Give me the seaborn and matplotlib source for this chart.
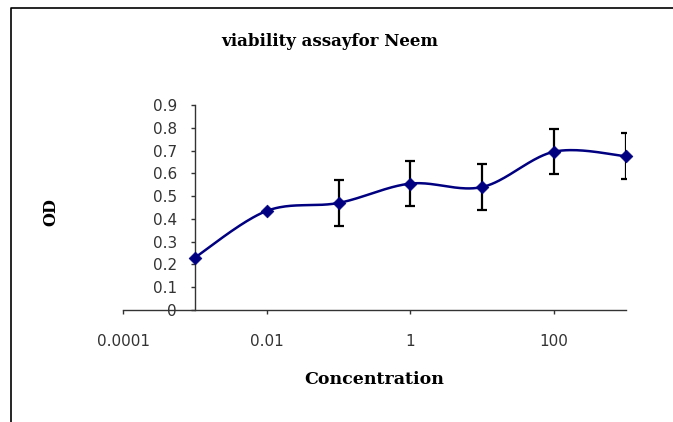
import numpy as np
import matplotlib
matplotlib.use('Agg')
import matplotlib.pyplot as plt
from matplotlib.lines import Line2D
from matplotlib.ticker import FixedLocator, FixedFormatter, NullLocator
import seaborn as sns

# data
concentration = [0.001, 0.01, 0.1, 1, 10, 100, 1000]
od = [0.23, 0.435, 0.47, 0.555, 0.54, 0.695, 0.675]
od_err = [0, 0, 0.1, 0.1, 0.1, 0.1, 0.1]
x_ticks = [0.0001, 0.01, 1, 100]
x_tick_labels = ['0.0001', '0.01', '1', '100']
y_ticks = [0, 0.1, 0.2, 0.3, 0.4, 0.5, 0.6, 0.7, 0.8, 0.9]
y_tick_labels = ['0', '0.1', '0.2', '0.3', '0.4', '0.5', '0.6', '0.7',
                 '0.8', '0.9']

NAVY = '#000080'
W, H = 673, 422

sns.set_style('white')
plt.rcParams['font.family'] = ['DejaVu Sans']

fig = plt.figure(figsize=(W / 100, H / 100), dpi=100)
ax = fig.add_axes([123 / W, 112 / H, 503 / W, 205 / H])
ax.set_xscale('log')
ax.set_xlim(1e-4, 1e3)
ax.set_ylim(0, 0.9)


def smooth_curve(xs, ys, n=40):
    """Excel style smoothed line: bezier through the points, built in
    screen-proportional units so the curve shape follows the axes."""
    u = (np.log10(xs) + 4) / 7 * 503
    v = np.asarray(ys) / 0.9 * 205
    pts = np.column_stack([u, v])
    ext = np.vstack([pts[0], pts, pts[-1]])
    out = []
    t = np.linspace(0, 1, n)[:, None]
    for i in range(len(pts) - 1):
        p0, p3 = ext[i + 1], ext[i + 2]
        c1 = p0 + (ext[i + 2] - ext[i]) / 6
        c2 = p3 - (ext[i + 3] - ext[i + 1]) / 6
        seg = ((1 - t) ** 3 * p0 + 3 * (1 - t) ** 2 * t * c1
               + 3 * (1 - t) * t ** 2 * c2 + t ** 3 * p3)
        out.append(seg if i == 0 else seg[1:])
    out = np.vstack(out)
    return 10 ** (out[:, 0] / 503 * 7 - 4), out[:, 1] / 205 * 0.9


cx, cy = smooth_curve(concentration, od)
sns.lineplot(x=cx, y=cy, sort=False, estimator=None, color=NAVY,
             linewidth=1.8, ax=ax, zorder=3)

has_err = [e > 0 for e in od_err]
ax.errorbar([c for c, h in zip(concentration, has_err) if h],
            [o for o, h in zip(od, has_err) if h],
            yerr=[e for e, h in zip(od_err, has_err) if h],
            fmt='none', ecolor='black', elinewidth=1.6, capsize=3.8,
            capthick=1.6, zorder=4)
sns.scatterplot(x=concentration, y=od, marker='D', color=NAVY, s=42,
                edgecolor=NAVY, linewidth=0.5, ax=ax, zorder=5, clip_on=False)

# axes in Excel style: y axis crossing at 0.001
for side in ['top', 'right']:
    ax.spines[side].set_visible(False)
ax.spines['left'].set_position(('data', 0.001))
for side in ['left', 'bottom']:
    ax.spines[side].set_color('#333333')
    ax.spines[side].set_linewidth(1.0)

ax.xaxis.set_major_locator(FixedLocator(x_ticks))
ax.xaxis.set_major_formatter(FixedFormatter(x_tick_labels))
ax.xaxis.set_minor_locator(NullLocator())
ax.yaxis.set_major_locator(FixedLocator(y_ticks))
ax.yaxis.set_major_formatter(FixedFormatter(y_tick_labels))
ax.tick_params(axis='x', direction='out', length=3, width=1,
               color='#333333', labelsize=11, labelcolor='#333333', pad=14,
               bottom=True)
ax.tick_params(axis='y', direction='out', length=3, width=1,
               color='#333333', labelsize=11, labelcolor='#333333', pad=10,
               left=True)
ax.grid(False)

serif = dict(family='DejaVu Serif', weight='bold', color='black')
fig.text(330 / W, 1 - 42 / H, 'viability assayfor Neem', ha='center',
         va='center', fontsize=12, **serif)
fig.text(51 / W, 1 - 212 / H, 'OD', ha='center', va='center',
         rotation=90, fontsize=11.5, **serif)
fig.text(374 / W, 1 - 380 / H, 'Concentration', ha='center', va='center',
         fontsize=12.5, **serif)

# chart frame
fig.add_artist(Line2D([11 / W, 11 / W, 1], [0, 1 - 8 / H, 1 - 8 / H],
                      transform=fig.transFigure, color='black', lw=1.2))

fig.savefig('out.png', dpi=100)
